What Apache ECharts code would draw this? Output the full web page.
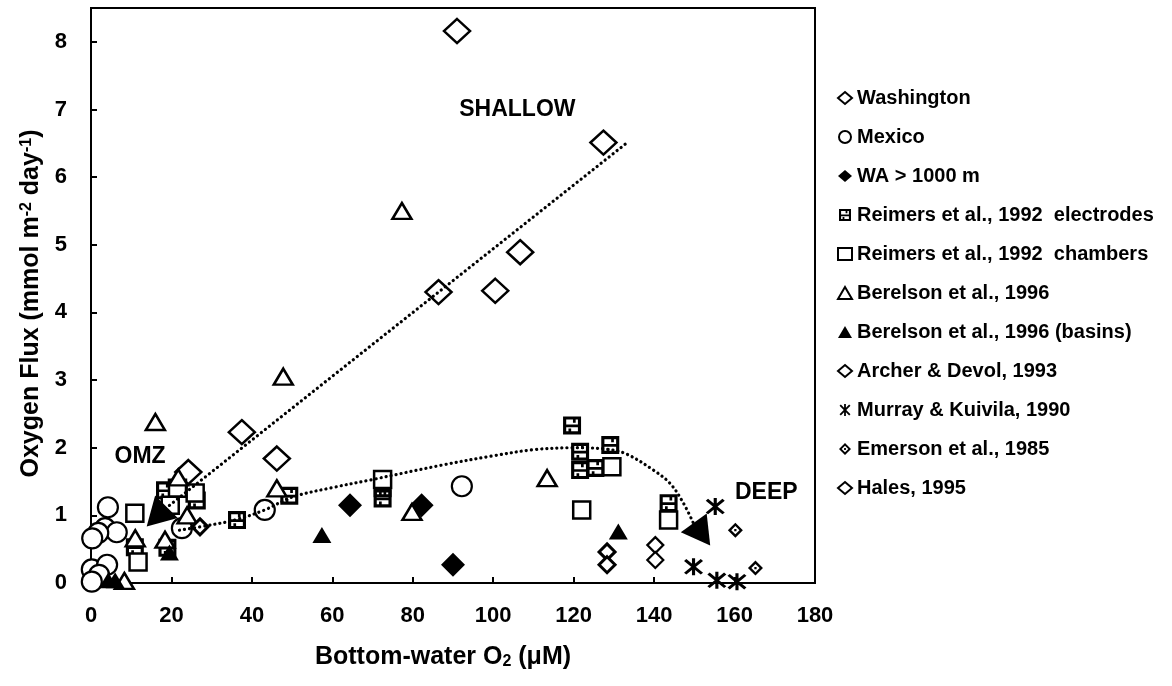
<!DOCTYPE html>
<html>
<head>
<meta charset="utf-8">
<script src="https://cdn.jsdelivr.net/npm/echarts@6/dist/echarts.min.js"></script>
<style>
  html, body { margin: 0; padding: 0; background: #fff; }
  #chart { width: 1172px; height: 686px; }
</style>
</head>
<body>
<div id="chart"></div>
<script>
// Benthic oxygen flux versus bottom-water O2, grouped by data source.
const xTicks = [0, 20, 40, 60, 80, 100, 120, 140, 160, 180];
const yTicks = [0, 1, 2, 3, 4, 5, 6, 7, 8];

// [bottom-water O2 (uM), oxygen flux (mmol m-2 day-1)]
const washington = [[24.2, 1.64], [37.5, 2.23], [46.2, 1.84], [86.4, 4.30], [100.5, 4.32], [106.7, 4.89], [127.4, 6.51], [91.0, 8.16]];
const mexico = [[4.2, 1.12], [3.5, 0.81], [6.4, 0.75], [1.8, 0.74], [0.3, 0.66], [0.2, 0.20], [4.0, 0.27], [2.0, 0.12], [0.2, 0.02], [22.6, 0.81], [43.2, 1.08], [92.2, 1.43]];
const waDeep = [[64.4, 1.15], [82.2, 1.15], [90.0, 0.27]];
const reimersElectrodes = [[10.9, 0.53], [19.0, 0.52], [18.4, 1.37], [26.3, 1.22], [36.3, 0.93], [49.3, 1.29], [72.5, 1.40], [72.5, 1.25], [119.6, 2.33], [121.6, 1.94], [129.1, 2.04], [121.6, 1.67], [125.4, 1.70], [143.6, 1.18]];
const reimersChambers = [[10.9, 1.03], [11.7, 0.31], [25.9, 1.33], [21.5, 1.40], [19.7, 1.15], [72.5, 1.53], [129.5, 1.72], [122.0, 1.08], [143.6, 0.93]];
const berelson = [[16.0, 2.38], [47.8, 3.05], [77.3, 5.50], [46.2, 1.40], [21.7, 1.56], [23.9, 1.00], [11.0, 0.66], [18.4, 0.64], [8.3, 0.03], [79.8, 1.05], [113.4, 1.55]];
const berelsonBasins = [[4.3, 0.04], [6.0, 0.04], [19.5, 0.45], [57.4, 0.71], [131.1, 0.76]];
const archerDevol = [[27.1, 0.83], [128.3, 0.46], [128.3, 0.27]];
const murrayKuivila = [[155.2, 1.13], [149.8, 0.24], [155.6, 0.04], [160.6, 0.02]];
const emerson = [[160.2, 0.78], [165.2, 0.22]];
const hales = [[140.3, 0.56], [140.3, 0.34]];

// Hand-drawn trends and their arrowheads
const shallowTrend = [[18.5, 1.10], [133.3, 6.51]];
const deepTrend = [[22, 0.78], [30, 0.86], [36.3, 0.94], [43.2, 1.08], [50, 1.27], [60, 1.41], [70, 1.53], [87, 1.74], [100, 1.88], [110, 1.97], [120, 2.00], [128, 1.98], [133, 1.91], [139.8, 1.67], [144, 1.47], [147.3, 1.18], [149.8, 0.88]];
const arrowHeads = [[16.3, 0.98], [151.9, 0.72]];

// Regime labels placed in data space
const zoneLabels = [[12.2, 1.87, 'OMZ'], [106.0, 7.0, 'SHALLOW'], [167.9, 1.33, 'DEEP']];

const FONT = '"Liberation Sans", Arial, Helvetica, sans-serif';

// Custom glyphs (nonzero fill: holes wound opposite to outlines)
const ELECTRODE = 'path://M0 0H20V20H0Z M3.5 3.5V9H16.5V3.5Z M3.5 12V16.5H16.5V12Z M11 3.5H14V7H11Z M6 13.5H9V16.5H6Z';
const ASTERISK = 'path://M8.5 0H11.5V20H8.5Z M0.9 3.1L3.1 0.9L19.1 16.9L16.9 19.1Z M16.9 0.9L19.1 3.1L3.1 19.1L0.9 16.9Z';
const DOTTED_DIAMOND = 'path://M10 0L20 10L10 20L0 10Z M10 4.5L4.5 10L10 15.5L15.5 10Z M8.5 8.5H11.5V11.5H8.5Z';

const openStyle = (w) => ({ color: '#fff', borderColor: '#000', borderWidth: w, opacity: 1 });
const solidStyle = { color: '#000', borderWidth: 0, opacity: 1 };

function scatter(name, data, symbol, size, itemStyle) {
  return { name, type: 'scatter', data, symbol, symbolSize: size, itemStyle, z: 3, emphasis: { disabled: true } };
}

const chart = echarts.init(document.getElementById('chart'), null, { renderer: 'canvas' });

const option = {
  backgroundColor: '#fff',
  animation: false,
  textStyle: { fontFamily: FONT, fontWeight: 'bold', color: '#000' },
  grid: { left: 91, right: 357, top: 8, bottom: 103, show: true, borderColor: '#000', borderWidth: 2, backgroundColor: 'transparent' },
  xAxis: {
    type: 'value', min: xTicks[0], max: xTicks[xTicks.length - 1], interval: xTicks[1] - xTicks[0],
    splitLine: { show: false },
    axisLine: { lineStyle: { color: '#000', width: 2 } },
    axisTick: { inside: true, length: 6, lineStyle: { color: '#000', width: 2 } },
    axisLabel: { margin: 22, fontSize: 22, fontFamily: FONT, fontWeight: 'bold', color: '#000' },
    name: 'Bottom-water O{sub|2} (\u03bcM)',
    nameLocation: 'middle', nameGap: 62,
    nameTextStyle: {
      fontSize: 25, fontFamily: FONT, fontWeight: 'bold', color: '#000', padding: [0, 20, 0, 0],
      rich: { sub: { fontSize: 16, fontFamily: FONT, fontWeight: 'bold', verticalAlign: 'bottom', padding: [9, 0, 0, 0] } }
    }
  },
  yAxis: {
    type: 'value', min: 0, max: 8.5, interval: yTicks[1] - yTicks[0],
    splitLine: { show: false },
    axisLine: { lineStyle: { color: '#000', width: 2 } },
    axisTick: { inside: true, length: 6, lineStyle: { color: '#000', width: 2 } },
    axisLabel: { margin: 24, fontSize: 22, fontFamily: FONT, fontWeight: 'bold', color: '#000', showMaxLabel: false,
      formatter: v => (yTicks.indexOf(v) >= 0 ? String(v) : '') },
    name: 'Oxygen Flux (mmol m{sup|-2} day{sup|-1})',
    nameLocation: 'middle', nameGap: 46, nameRotate: 90,
    nameTextStyle: {
      fontSize: 25, fontFamily: FONT, fontWeight: 'bold', color: '#000', padding: [0, 16, 0, 0],
      rich: { sup: { fontSize: 16, fontFamily: FONT, fontWeight: 'bold', verticalAlign: 'top', padding: [0, 0, 9, 0] } }
    }
  },
  legend: {
    orient: 'vertical', left: 832, top: 83,
    itemWidth: 14, itemHeight: 12, itemGap: 19,
    textStyle: { fontSize: 20, lineHeight: 20, fontFamily: FONT, fontWeight: 'bold', color: '#000' },
    data: ['Washington', 'Mexico', 'WA > 1000 m', 'Reimers et al., 1992  electrodes', 'Reimers et al., 1992  chambers',
      'Berelson et al., 1996', 'Berelson et al., 1996 (basins)', 'Archer & Devol, 1993', 'Murray & Kuivila, 1990',
      'Emerson et al., 1985', 'Hales, 1995'],
    selectedMode: false
  },
  series: [
    scatter('Washington', washington, 'diamond', [26, 24], openStyle(2.5)),
    scatter('Mexico', mexico, 'circle', 20, openStyle(2.2)),
    scatter('WA > 1000 m', waDeep, 'diamond', 24, solidStyle),
    scatter('Reimers et al., 1992  electrodes', reimersElectrodes, ELECTRODE, 18, solidStyle),
    scatter('Reimers et al., 1992  chambers', reimersChambers, 'rect', 17, openStyle(2.5)),
    scatter('Berelson et al., 1996', berelson, 'triangle', [19, 16], openStyle(2.5)),
    scatter('Berelson et al., 1996 (basins)', berelsonBasins, 'triangle', [19, 16], solidStyle),
    scatter('Archer & Devol, 1993', archerDevol, 'diamond', 16, openStyle(3)),
    scatter('Murray & Kuivila, 1990', murrayKuivila, ASTERISK, [19, 17], solidStyle),
    scatter('Emerson et al., 1985', emerson, DOTTED_DIAMOND, 15, solidStyle),
    scatter('Hales, 1995', hales, 'diamond', 16, openStyle(2.2)),
    {
      name: 'shallow trend', type: 'line', data: shallowTrend, symbol: 'none', z: 4,
      lineStyle: { color: '#000', width: 3.2, type: [0.1, 5], cap: 'round' }
    },
    {
      name: 'deep trend', type: 'line', data: deepTrend, symbol: 'none', smooth: 0.35, z: 4,
      lineStyle: { color: '#000', width: 3.2, type: [0.1, 5], cap: 'round' }
    },
    {
      name: 'trend arrows', type: 'scatter', z: 5, symbol: 'triangle', symbolSize: [32, 28],
      data: arrowHeads.map((p, i) => ({ value: p, symbolRotate: [135, -144][i] })),
      itemStyle: { color: '#000', opacity: 1 }
    },
    {
      name: 'zones', type: 'scatter', z: 6, symbol: 'circle', symbolSize: 1,
      itemStyle: { color: 'rgba(0,0,0,0)', opacity: 1 },
      data: zoneLabels.map(d => ({ value: [d[0], d[1]], name: d[2] })),
      label: { show: true, position: 'inside', formatter: p => p.name, fontSize: 23, fontFamily: FONT, fontWeight: 'bold', color: '#000', opacity: 1 }
    }
  ]
};

chart.setOption(option);
</script>
</body>
</html>
